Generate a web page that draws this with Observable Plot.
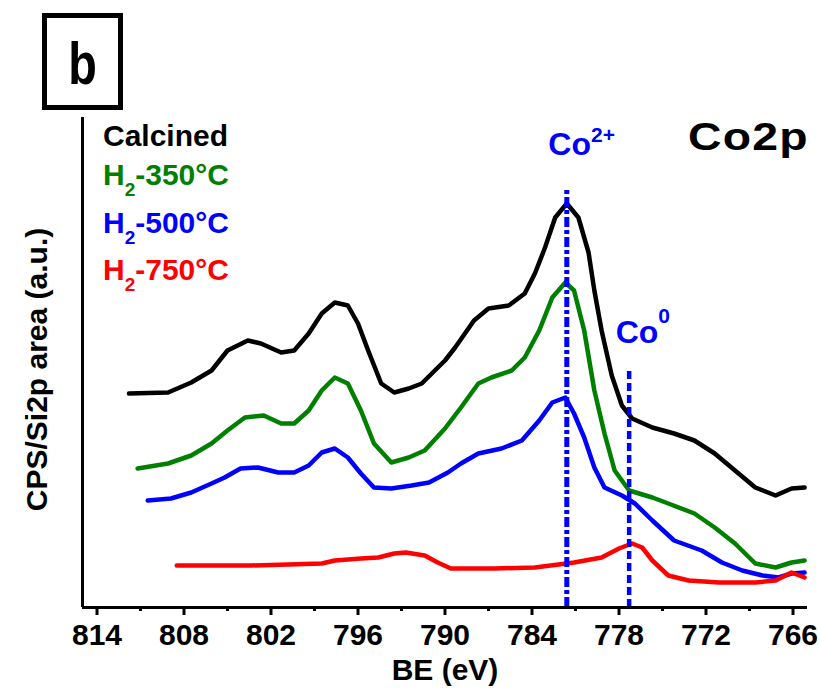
<!DOCTYPE html>
<html>
<head>
<meta charset="utf-8">
<script src="https://cdn.jsdelivr.net/npm/d3@7"></script>
<script src="https://cdn.jsdelivr.net/npm/@observablehq/plot@0.6"></script>
<style>
  body { margin: 0; background: #fff; }
  #wrap { position: relative; width: 820px; height: 691px; overflow: hidden;
          font-family: "Liberation Sans", Arial, sans-serif; font-weight: bold; }
  #wrap svg { position: absolute; left: 0; top: 0; }
  .ov { position: absolute; white-space: nowrap; }
</style>
</head>
<body>
<div id="wrap"></div>
<script>
// ---------- data ----------
const seriesNames  = ["Calcined", "H2-350°C", "H2-500°C", "H2-750°C"];
const seriesColors = ["#000000", "#008000", "#0000ff", "#ff0000"];

const calcinedBE = [811.8, 809.1, 807.5, 806.1, 805.0, 803.6, 802.7, 801.3, 800.4, 799.4, 798.5, 797.6, 796.7, 796.0, 795.3, 794.4, 793.5, 792.5, 791.6, 790.7, 790.0, 789.3, 788.0, 787.0, 785.6, 784.5, 783.8, 783.1, 782.4, 781.6, 780.8, 780.1, 779.7, 779.2, 778.5, 777.8, 777.1, 775.7, 774.2, 772.8, 771.4, 770.0, 768.6, 767.2, 766.1, 765.2];
const calcinedI  = [214, 215, 225, 237, 257, 267, 264, 255, 257, 274, 294, 305, 302, 284, 257, 224, 215, 219, 224, 237, 247, 260, 287, 299, 302, 314, 334, 360, 390, 404, 390, 355, 317, 277, 232, 202, 189, 180, 174, 167, 154, 137, 120, 112, 119, 120];

const h350BE = [811.2, 809.1, 807.5, 806.1, 805.0, 803.8, 802.5, 801.3, 800.4, 799.4, 798.5, 797.6, 796.7, 795.8, 794.9, 793.7, 792.5, 791.4, 790.0, 788.9, 787.7, 786.8, 785.4, 784.5, 783.5, 782.6, 781.7, 781.1, 780.4, 779.7, 779.0, 778.3, 777.3, 775.7, 774.6, 772.8, 771.4, 770.0, 768.6, 767.2, 766.1, 765.2];
const h350I  = [139, 144, 152, 164, 177, 190, 192, 184, 184, 197, 217, 230, 224, 197, 164, 145, 150, 157, 179, 200, 224, 230, 237, 250, 277, 310, 325, 317, 277, 217, 174, 137, 117, 110, 104, 94, 80, 64, 44, 40, 45, 47];

const h500BE = [810.5, 808.9, 807.5, 806.1, 805.2, 804.1, 802.9, 801.5, 800.4, 799.4, 798.5, 797.6, 796.7, 795.8, 794.9, 793.7, 792.3, 791.1, 789.8, 788.9, 787.7, 786.1, 784.7, 783.5, 782.6, 781.7, 781.1, 780.4, 779.7, 779.0, 777.8, 776.9, 775.7, 774.2, 772.3, 770.9, 769.5, 768.1, 767.0, 766.1, 765.2];
const h500I  = [107, 109, 115, 124, 130, 139, 140, 135, 135, 142, 155, 159, 150, 134, 120, 119, 122, 125, 135, 144, 154, 159, 167, 187, 205, 210, 194, 170, 140, 120, 112, 104, 87, 67, 57, 45, 37, 32, 30, 34, 35];

const h750BE = [808.5, 803.4, 798.5, 797.6, 795.8, 794.6, 793.5, 792.7, 791.4, 790.5, 789.6, 786.6, 783.8, 781.1, 779.2, 778.0, 777.1, 776.4, 775.7, 774.6, 773.2, 771.1, 768.6, 767.2, 766.1, 765.2];
const h750I  = [42, 42, 44, 47, 49, 50, 54, 55, 52, 45, 39, 39, 40, 45, 50, 59, 64, 60, 47, 32, 27, 25, 25, 27, 35, 30];

const xTicks      = [814, 808, 802, 796, 790, 784, 778, 772, 766];
const xMinorTicks = [811, 805, 799, 793, 787, 781, 775, 769];

const refBase = ["Co", "Co"];
const refSup  = ["2+", "0"];
const refBE   = [781.6, 777.3];
const refTop  = [417, 239];

const yLabel = "CPS/Si2p area (a.u.)";
const xLabel = "BE (eV)";
const panelLetter = "b";
const panelTitle = "Co2p";

// ---------- tables ----------
const seriesBE = [calcinedBE, h350BE, h500BE, h750BE];
const seriesI  = [calcinedI, h350I, h500I, h750I];
const rows = seriesNames.flatMap((s, k) => seriesBE[k].map((be, j) => ({series: s, be, i: seriesI[k][j]})));
const refRows = refBE.map((be, k) => ({be, top: refTop[k]}));

const font = "'Liberation Sans', Arial, sans-serif";

const chart = Plot.plot({
  width: 820,
  height: 691,
  marginLeft: 82,
  marginRight: 13,
  marginTop: 117,
  marginBottom: 84,
  x: {domain: [815, 765], label: null},
  y: {domain: [0, 490], axis: null},
  color: {domain: seriesNames, range: seriesColors},
  style: {fontFamily: font, fontWeight: "bold", fontSize: "30px", background: "#fff", overflow: "visible"},
  marks: [
    Plot.line(rows, {x: "be", y: "i", z: "series", stroke: "series", strokeWidth: 4.5, strokeLinejoin: "round"}),
    Plot.ruleX([refRows[0]], {x: "be", y1: 0, y2: "top", stroke: "#0000ff", strokeWidth: 5, strokeDasharray: "10,3,4,3"}),
    Plot.ruleX([refRows[1]], {x: "be", y1: 0, y2: "top", stroke: "#0000ff", strokeWidth: 4.5, strokeDasharray: "8,4"}),
    Plot.ruleY([0], {stroke: "#000", strokeWidth: 3}),
    Plot.ruleX([815], {stroke: "#000", strokeWidth: 3}),
    Plot.axisX(xTicks, {tickSize: 8, tickPadding: 8, fontSize: 30, fontWeight: "bold", strokeWidth: 3, tickFormat: d => String(d), label: null}),
    Plot.axisX(xMinorTicks, {tickSize: 4, strokeWidth: 3, tickFormat: () => "", label: null}),
    Plot.text([yLabel], {frameAnchor: "left", textAnchor: "middle", rotate: -90, dx: -45, dy: 7, fontSize: 30, fontWeight: "bold", fill: "#000"}),
    Plot.text([xLabel], {frameAnchor: "bottom", textAnchor: "middle", dy: 72, fontSize: 30, fontWeight: "bold", fill: "#000"})
  ]
});

const wrap = document.getElementById("wrap");
wrap.appendChild(chart);

const xs = chart.scale("x");

function addDiv(html, css) {
  const d = document.createElement("div");
  d.className = "ov";
  d.innerHTML = html;
  Object.assign(d.style, css);
  wrap.appendChild(d);
  return d;
}

// panel letter box
addDiv("", {left: "42px", top: "13px", width: "81px", height: "97px", border: "5px solid #000", boxSizing: "border-box"});
addDiv(panelLetter, {left: "42px", top: "34px", width: "81px", textAlign: "center", fontSize: "60px", lineHeight: "60px", transform: "scaleX(0.78)", transformOrigin: "center"});

// panel title
addDiv(panelTitle, {left: "688px", top: "118px", fontSize: "38px", lineHeight: "38px", letterSpacing: "1px", transform: "scaleX(1.22)", transformOrigin: "left center", color: "#000"});

// legend
const legendBaselines = [146, 185, 233, 280];
seriesNames.forEach((name, k) => {
  const html = name.startsWith("H2")
    ? 'H<span style="font-size:19px;position:relative;top:11px">2</span>' + name.slice(2)
    : name;
  addDiv(html, {left: "103px", top: (legendBaselines[k] - 25) + "px", fontSize: "30px", lineHeight: "30px", color: seriesColors[k]});
});

// reference line labels
const refOffsets = [-18, -13];
const refBaselines = [155, 343];
const refRaise = [13, 20];
refBase.forEach((b, k) => {
  const html = b + '<span style="font-size:21px;position:relative;top:-' + refRaise[k] + 'px">' + refSup[k] + '</span>';
  addDiv(html, {left: (xs.apply(refBE[k]) + refOffsets[k]) + "px", top: (refBaselines[k] - 27) + "px", fontSize: "32px", lineHeight: "32px", color: "#0000ff"});
});
</script>
</body>
</html>
